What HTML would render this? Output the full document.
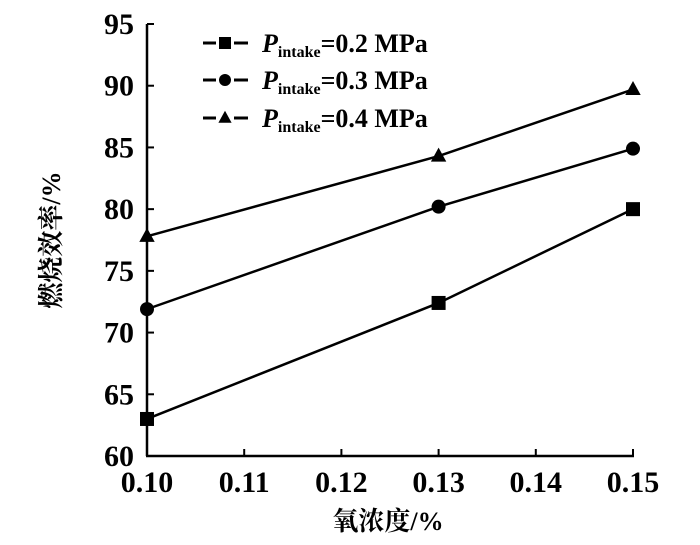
<!DOCTYPE html>
<html><head><meta charset="utf-8"><style>
body{margin:0;background:#fff}
svg text{font-family:"Liberation Serif","Noto Serif CJK SC",serif;font-weight:bold;fill:#000}
</style></head><body>
<svg width="700" height="540">
<g id="axes"></g><g id="series"></g><g id="legend"></g>
<text x="388" y="530" font-size="26" text-anchor="middle">氧浓度/%</text>
<text transform="translate(60,240) rotate(-90)" font-size="26" text-anchor="middle">燃烧效率/%</text>
</svg>
<script>
const xCats=[0.10,0.13,0.15];
const s02=[63.0,72.4,80.0];
const s03=[71.9,80.2,84.9];
const s04=[77.8,84.3,89.7];
const xTicks=["0.10","0.11","0.12","0.13","0.14","0.15"];
const yTicks=[60,65,70,75,80,85,90,95];
const NS="http://www.w3.org/2000/svg";
const X=v=>147+(v-0.10)/0.05*486;
const Y=v=>456-(v-60)/35*432;
function mk(t,a,p){const e=document.createElementNS(NS,t);for(const k in a)e.setAttribute(k,a[k]);p.appendChild(e);return e;}
const ax=document.getElementById('axes');
let l=mk('line',{x1:147,y1:Y(95),x2:147,y2:456,stroke:'#000','stroke-width':2.5},ax);


l=mk('line',{x1:146,y1:456,x2:634,y2:456,stroke:'#000','stroke-width':2.5},ax);


yTicks.forEach(v=>{mk('line',{x1:147,y1:Y(v),x2:154,y2:Y(v),stroke:'#000','stroke-width':2},ax);
const t=mk('text',{x:134,y:Y(v)+10,'font-size':30,'text-anchor':'end'},ax);t.textContent=v;

});
xTicks.forEach(s=>{const x=X(parseFloat(s));mk('line',{x1:x,y1:456,x2:x,y2:449,stroke:'#000','stroke-width':2},ax);
const t=mk('text',{x:x,y:492,'font-size':30,'text-anchor':'middle'},ax);t.textContent=s;

});
function marker(type,x,y,p,s){let e;
if(type==='sq')e=mk('rect',{x:x-s,y:y-s,width:2*s,height:2*s,fill:'#000'},p);
else if(type==='ci')e=mk('circle',{cx:x,cy:y,r:s,fill:'#000'},p);
else e=mk('polygon',{points:`${x},${y-s*1.2} ${x-s*1.1},${y+s*0.8} ${x+s*1.1},${y+s*0.8}`,fill:'#000'},p);
return e;}
const sg=document.getElementById('series');
[[s02,'sq','0.2'],[s03,'ci','0.3'],[s04,'tr','0.4']].forEach(([d,m,n])=>{
const pl=mk('polyline',{points:d.map((v,i)=>X(xCats[i])+','+Y(v)).join(' '),fill:'none',stroke:'#000','stroke-width':2.5},sg);


d.forEach((v,i)=>{const e=marker(m,X(xCats[i]),Y(v),sg,7);

});});
const lg=document.getElementById('legend');
[['sq','0.2',43],['ci','0.3',80],['tr','0.4',118]].forEach(([m,n,y])=>{
const g=mk('g',{},lg);


mk('line',{x1:203,y1:y,x2:216,y2:y,stroke:'#000','stroke-width':3},g);
mk('line',{x1:234,y1:y,x2:248,y2:y,stroke:'#000','stroke-width':3},g);
marker(m,225,y,g,6);
const t=mk('text',{x:262,y:y+9,'font-size':26},g);
t.innerHTML='<tspan font-style="italic">P</tspan><tspan font-size="16" dy="5">intake</tspan><tspan dy="-5">=0.'+n.slice(2)+' MPa</tspan>';});
</script>
</body></html>
